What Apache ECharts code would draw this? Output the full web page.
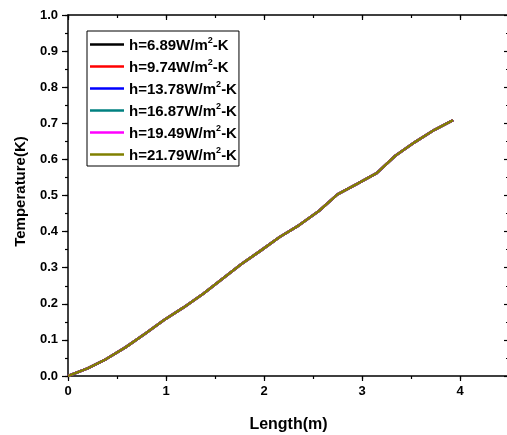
<!DOCTYPE html>
<html>
<head>
<meta charset="utf-8">
<script src="https://cdn.jsdelivr.net/npm/echarts@6/dist/echarts.min.js"></script>
<style>
html,body{margin:0;padding:0;background:#fff;}
#chart{width:507px;height:435px;}
</style>
</head>
<body>
<div id="chart"></div>
<script>
var seriesNames = ['h=6.89W/m²-K', 'h=9.74W/m²-K', 'h=13.78W/m²-K', 'h=16.87W/m²-K', 'h=19.49W/m²-K', 'h=21.79W/m²-K'];
var seriesColors = ['#000000', '#ff0000', '#0000ff', '#008080', '#ff00ff', '#808000'];
var lengthM = [0, 0.2, 0.39, 0.59, 0.79, 0.98, 1.18, 1.38, 1.57, 1.77, 1.97, 2.16, 2.36, 2.56, 2.75, 2.95, 3.15, 3.34, 3.54, 3.74, 3.93];
var tempH1 = [0, 0.021, 0.047, 0.08, 0.118, 0.155, 0.19, 0.228, 0.268, 0.31, 0.348, 0.385, 0.418, 0.457, 0.503, 0.532, 0.562, 0.61, 0.648, 0.682, 0.709];
var tempH2 = [0, 0.021, 0.047, 0.08, 0.118, 0.155, 0.19, 0.228, 0.268, 0.31, 0.348, 0.385, 0.418, 0.457, 0.503, 0.532, 0.562, 0.61, 0.648, 0.682, 0.709];
var tempH3 = [0, 0.021, 0.047, 0.08, 0.118, 0.155, 0.19, 0.228, 0.268, 0.31, 0.348, 0.385, 0.418, 0.457, 0.503, 0.532, 0.562, 0.61, 0.648, 0.682, 0.709];
var tempH4 = [0, 0.021, 0.047, 0.08, 0.118, 0.155, 0.19, 0.228, 0.268, 0.31, 0.348, 0.385, 0.418, 0.457, 0.503, 0.532, 0.562, 0.61, 0.648, 0.682, 0.709];
var tempH5 = [0, 0.021, 0.047, 0.08, 0.118, 0.155, 0.19, 0.228, 0.268, 0.31, 0.348, 0.385, 0.418, 0.457, 0.503, 0.532, 0.562, 0.61, 0.648, 0.682, 0.709];
var tempH6 = [0, 0.021, 0.047, 0.08, 0.118, 0.155, 0.19, 0.228, 0.268, 0.31, 0.348, 0.385, 0.418, 0.457, 0.503, 0.532, 0.562, 0.61, 0.648, 0.682, 0.709];
var tempSets = [tempH1, tempH2, tempH3, tempH4, tempH5, tempH6];

var FONT = 'Arial, "Liberation Sans", sans-serif';
var chart = echarts.init(document.getElementById('chart'), null, {renderer: 'canvas'});

function pairs(xs, ys) {
  return xs.map(function (x, i) { return [x, ys[i]]; });
}

var series = seriesNames.map(function (name, i) {
  return {
    name: name,
    type: 'line',
    xAxisIndex: 0,
    yAxisIndex: 0,
    data: pairs(lengthM, tempSets[i]),
    showSymbol: false,
    symbol: 'none',
    lineStyle: {color: seriesColors[i], width: 2.5},
    itemStyle: {color: seriesColors[i]},
    animation: false,
    z: 2 + i
  };
});

function xAx(pos, interval, len, inside, showLabel, showLine, name) {
  return {
    type: 'value', position: pos, min: 0, max: 4.5, interval: interval,
    name: name || '', nameLocation: 'middle', nameGap: 41,
    nameTextStyle: {fontFamily: FONT, fontWeight: 'bold', fontSize: 16, color: '#000'},
    axisLine: {show: showLine, onZero: false, lineStyle: {color: '#000', width: 1.5}},
    axisTick: {show: true, inside: inside, length: len, lineStyle: {color: '#000', width: 1.2}},
    axisLabel: {show: showLabel, showMaxLabel: false, fontFamily: FONT, fontWeight: 'bold', fontSize: 13, color: '#000', margin: 9},
    splitLine: {show: false}
  };
}
function yAx(pos, interval, len, inside, showLabel, showLine, name) {
  return {
    type: 'value', position: pos, min: 0, max: 1.0, interval: interval,
    name: name || '', nameLocation: 'middle', nameGap: 40,
    nameTextStyle: {fontFamily: FONT, fontWeight: 'bold', fontSize: 15, color: '#000', padding: [0, 0, 0, 8]},
    axisLine: {show: showLine, onZero: false, lineStyle: {color: '#000', width: 1.5}},
    axisTick: {show: true, inside: inside, length: len, lineStyle: {color: '#000', width: 1.2}},
    axisLabel: {show: showLabel, fontFamily: FONT, fontWeight: 'bold', fontSize: 13, color: '#000', margin: 10,
      formatter: function (v) { return v.toFixed(1); }},
    splitLine: {show: false}
  };
}

var option = {
  backgroundColor: '#fff',
  animation: false,
  grid: {left: 68, top: 15, right: -2, bottom: 59, containLabel: false, outerBoundsMode: 'none'},
  legend: {
    orient: 'vertical',
    left: 87, top: 31,
    data: seriesNames,
    icon: 'rect',
    itemWidth: 34, itemHeight: 2.5,
    itemGap: 5,
    padding: [5, 2, 3, 3],
    borderColor: '#000', borderWidth: 1,
    backgroundColor: '#fff',
    selectedMode: false,
    formatter: function (name) {
      var parts = name.split('²');
      return '{t|' + parts[0] + '}{s|2}{t|' + parts[1] + '}';
    },
    textStyle: {
      fontFamily: FONT, fontWeight: 'bold', fontSize: 15, color: '#000',
      rich: {
        t: {fontFamily: FONT, fontWeight: 'bold', fontSize: 15, color: '#000', lineHeight: 17, verticalAlign: 'bottom'},
        s: {fontFamily: FONT, fontWeight: 'bold', fontSize: 9, color: '#000', lineHeight: 17, verticalAlign: 'top', padding: [0, 0, 0, 0]}
      }
    }
  },
  xAxis: [
    xAx('bottom', 1, 5, false, true, true, 'Length(m)'),
    xAx('bottom', 0.5, 3, false, false, false),
    xAx('top', 1, 5, true, false, true),
    xAx('top', 0.5, 3, true, false, false)
  ],
  yAxis: [
    yAx('left', 0.1, 6, false, true, true, 'Temperature(K)'),
    yAx('left', 0.05, 3, false, false, false),
    yAx('right', 0.1, 5, true, false, true),
    yAx('right', 0.05, 3, true, false, false)
  ],
  series: series
};
chart.setOption(option);
</script>
</body>
</html>
